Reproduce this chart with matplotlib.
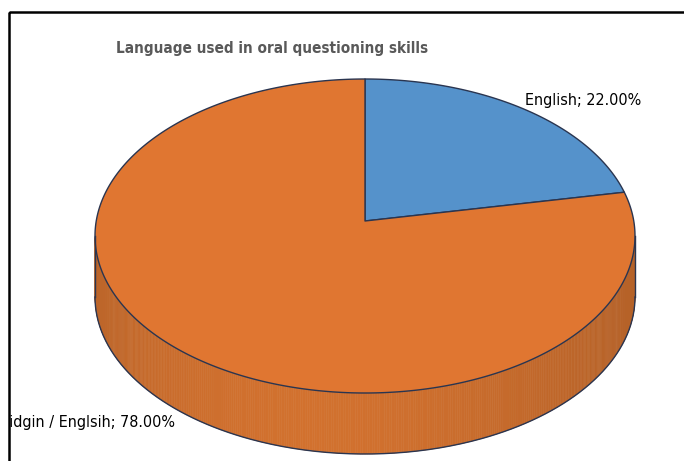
import numpy as np
import matplotlib.pyplot as plt
from matplotlib.patches import Polygon, Rectangle
from matplotlib.colors import to_rgb

labels = ['English', 'Pidgin / Englsih']
shares = [22.0, 78.0]
top_colors = ['#5592cb', '#e07631']
wall_colors = ['#4a80b4', '#d0702e']
title = 'Language used in oral questioning skills'

# pie geometry in pixel units (y grows downward)
cx, cy = 365, 236        # centre of the top ellipse
rx, ry = 270, 157        # radii of the top ellipse
vx, vy = 365, 221        # apex where the slices meet (perspective shifted)
depth = 61
edge = '#2a3550'

fig = plt.figure(figsize=(6.84, 4.61), dpi=100)
ax = fig.add_axes([0, 0, 1, 1])
ax.set_xlim(0, 684)
ax.set_ylim(461, 0)
ax.axis('off')


def rim_point(theta):
    # ray from the apex, foreshortened like the ellipse, hitting the rim
    dx, dy = rx * np.cos(theta), ry * np.sin(theta)
    off = cy - vy
    b = 2 * off * dy / ry ** 2
    c = (off / ry) ** 2 - 1
    u = (-b + np.sqrt(b * b - 4 * c)) / 2
    return vx + u * dx, vy - u * dy


def shade(color, x):
    # darker towards the left of the side wall
    t = (x - (cx - rx)) / (2 * rx)
    k = 0.90 + 0.12 * np.sin(np.pi * min(max(t, 0), 1) ** 0.8) - 0.03 * t
    return tuple(min(1, ch * k) for ch in to_rgb(color))


cum = np.concatenate([[0], np.cumsum(shares)]) / sum(shares)
angles = np.pi / 2 - 2 * np.pi * cum

# side wall, front half only
for i in range(len(shares)):
    th = np.linspace(angles[i], angles[i + 1], 600)
    xs, ys = rim_point(th)
    front = ys >= cy
    xs, ys = xs[front], ys[front]
    for j in range(len(xs) - 1):
        quad = [(xs[j], ys[j]), (xs[j + 1], ys[j + 1]),
                (xs[j + 1], ys[j + 1] + depth), (xs[j], ys[j] + depth)]
        col = shade(wall_colors[i], (xs[j] + xs[j + 1]) / 2)
        ax.add_patch(Polygon(quad, closed=True, fc=col, ec=col, lw=0.4))

# wall outline
phi = np.linspace(np.pi, 2 * np.pi, 300)
ax.plot(cx + rx * np.cos(phi), cy - ry * np.sin(phi) + depth, color=edge, lw=1)
ax.plot([cx - rx, cx - rx], [cy, cy + depth], color=edge, lw=1)
ax.plot([cx + rx, cx + rx], [cy, cy + depth], color=edge, lw=1)

# top face
for i in range(len(shares)):
    th = np.linspace(angles[i], angles[i + 1], 400)
    xs, ys = rim_point(th)
    pts = [(vx, vy)] + list(zip(xs, ys))
    ax.add_patch(Polygon(pts, closed=True, fc=top_colors[i], ec=edge,
                         lw=1, joinstyle='round'))

ax.text(272, 48, title, ha='center', va='center', fontsize=11,
        fontweight='bold', color='#595959', family='DejaVu Sans',
        fontstretch='condensed')

label_font = dict(fontsize=11.5, color='black', family='DejaVu Sans',
                  fontstretch='condensed')
ax.text(525, 100, f'{labels[0]}; {shares[0]:.2f}%', ha='left', va='center',
        **label_font)
ax.text(1, 422, f'{labels[1]}; {shares[1]:.2f}%', ha='left', va='center',
        zorder=3, **label_font)

# everything left of the frame is cut away
ax.add_patch(Rectangle((-5, 0), 15, 470, fc='white', ec='none', zorder=4))

# chart frame
ax.add_patch(Rectangle((9, 12.5), 700, 470, fill=False, ec='black', lw=1.8,
                       zorder=5))

fig.savefig('out.png', dpi=100)
